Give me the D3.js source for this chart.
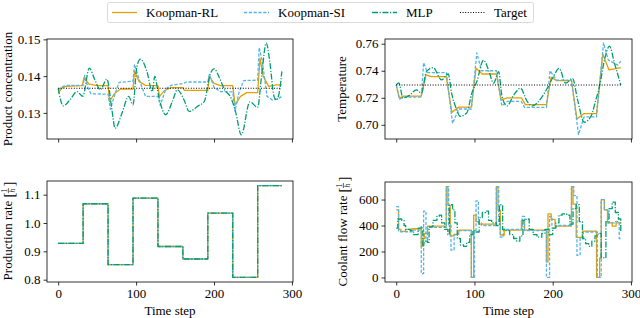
<!DOCTYPE html>
<html><head><meta charset="utf-8">
<script src="https://cdn.jsdelivr.net/npm/d3@7"></script>
<style>body{margin:0;background:#fff}svg{display:block}text{font-family:"Liberation Serif","DejaVu Serif",serif;fill:#000}</style>
</head><body><svg id="c" width="640" height="318"></svg>
<script>
// ---------- data ----------
const seriesNames = ["Koopman-RL","Koopman-SI","MLP","Target"];
const xTicks = [0,100,200,300];

const concRL_t = [0,5,10,31,33,40,50,64,66,72,80,96,98,104,112,128,130,136,145,160,162,192,194,200,208,224,227,234,242,256,259,263,270,280,287];
const concRL   = [0.1354,0.1368,0.1372,0.1374,0.1395,0.1378,0.1374,0.1374,0.1331,0.1352,0.1365,0.1365,0.1413,0.1385,0.1375,0.1374,0.1345,0.1360,0.1369,0.1369,0.1361,0.1361,0.1399,0.1380,0.1374,0.1374,0.1322,0.1345,0.1355,0.1355,0.1449,0.1400,0.1372,0.1376,0.1376];
const concSI_t = [0,6,12,32,34,38,42,64,67,72,78,96,98,104,112,128,131,138,145,160,165,192,194,200,208,224,227,232,238,256,258,262,268,275,282,287];
const concSI   = [0.1363,0.1372,0.1375,0.1375,0.1402,0.1370,0.1352,0.1351,0.1310,0.1345,0.1383,0.1386,0.1432,0.1390,0.1345,0.1345,0.1320,0.1365,0.1375,0.1380,0.1384,0.1384,0.1405,0.1370,0.1358,0.1357,0.1306,0.1355,0.1388,0.1389,0.1478,0.1440,0.1345,0.1335,0.1338,0.1345];
const concMLP_t = [0,6.5,15,24,31.5,40,47,54,62.5,69,73,82,90.5,96,101,105.6,114,120.7,124,129,138,146.5,153,161.6,168,179,187.5,195,200,207,213,222,228,235,246,256,261,267,271.5,277,280,284.5,287];
const concMLP   = [0.1367,0.1319,0.1335,0.1358,0.1345,0.1422,0.1390,0.1363,0.1392,0.1308,0.1258,0.1300,0.1345,0.1322,0.1426,0.1446,0.1412,0.1358,0.1399,0.1345,0.1295,0.1331,0.1363,0.1335,0.1304,0.1318,0.1331,0.1405,0.1420,0.1395,0.1365,0.1340,0.1300,0.1240,0.1330,0.1315,0.1400,0.1490,0.1440,0.1345,0.1335,0.1365,0.1413];
const concTarget = 0.1367;
const concTicks = [0.13,0.14,0.15];

const tempRL_t = [0,4,10,32,38,45,64,71,80,96,102,110,128,134,142,160,165,192,198,205,224,231,240,256,264,272,287];
const tempRL   = [0.7295,0.7200,0.7212,0.7212,0.7370,0.7357,0.7357,0.7092,0.7131,0.7131,0.7418,0.7376,0.7376,0.7185,0.7200,0.7200,0.7149,0.7149,0.7352,0.7327,0.7327,0.7043,0.7083,0.7083,0.7523,0.7406,0.7423];
const tempSI_t = [0,4,10,32,35,40,64,72,80,96,103,109,128,135,142,160,164,192,196.6,205,224,233,240,256,265,271,283,287];
const tempSI   = [0.7295,0.7190,0.7205,0.7205,0.7460,0.7386,0.7386,0.7010,0.7117,0.7117,0.7533,0.7400,0.7400,0.7140,0.7173,0.7173,0.7129,0.7129,0.7400,0.7330,0.7330,0.6928,0.7058,0.7058,0.7606,0.7480,0.7442,0.7470];
const tempMLP_t = [0,3.4,8.6,17.2,25.8,32.2,38.6,47.2,57.9,66.5,70.8,77.3,81.5,90.1,96.6,103,111.6,118,124.5,130.9,135.2,141.6,150.2,158.8,167.4,173.8,186.7,195.3,200.9,208.2,216.7,225.3,231.8,240.3,248.9,255.4,259.7,266.1,272.5,279,287];
const tempMLP   = [0.7295,0.7310,0.7198,0.7220,0.7259,0.7235,0.7393,0.7423,0.7332,0.7376,0.7234,0.7112,0.7063,0.7087,0.7234,0.7320,0.7479,0.7406,0.7308,0.7393,0.7210,0.7140,0.7220,0.7271,0.7173,0.7140,0.7210,0.7295,0.7357,0.7418,0.7308,0.7344,0.7185,0.7019,0.7063,0.7190,0.7280,0.7479,0.7582,0.7455,0.7295];
const tempTarget = 0.7295;
const tempTicks = [0.70,0.72,0.74,0.76];

const prod_t = [0,32,64,96,128,160,192,224,256,287];
const prodRate = [0.928,1.068,0.853,1.088,0.917,0.873,1.035,0.808,1.132,1.132];
const prodTicks = [0.8,0.9,1.0,1.1];

const flowRL_t = [0,3,6,12,20,32,34,36,40,64,66,69,74,80,96,99,102,106,128,130,133,138,160,164,192,194,198,203,224,226,230,238,256,260,262,266,270,276,281,287];
const flowRL   = [520,370,355,370,375,240,300,340,395,700,555,320,332,365,0,480,430,410,700,518,327,365,440,365,120,490,447,396,700,564,309,357,0,150,600,520,420,396,420,420];
const flowSI_t = [0,3,20,32,35,38,40,64,67,70,74,79,96,100,102,105,109,128,131,133,137,161,164,192,196,199,204,224,227,231,235,239,257,262,266,271,279,285,287];
const flowSI   = [545,352,365,30,510,290,385,700,400,210,330,360,0,360,590,420,400,700,420,310,370,470,360,0,470,380,400,700,630,170,300,350,0,600,520,420,430,300,300];
const flowMLP_t = [0,2,7,10,12,18,22,28,32,34,36,40,42,47,52,55,58,62,66,68,72,75,78,82,86,90,94,98,102,106,110,114,118,122,128,132,136,140,145,150,154,158,162,166,170,175,180,186,190,195,200,204,208,212,218,222,226,230,234,238,242,246,250,254,258,262,268,272,276,280,284,287];
const flowMLP   = [380,450,440,400,370,360,330,380,390,250,280,270,390,440,470,480,420,370,330,560,520,420,300,250,240,270,330,360,350,460,500,510,440,420,400,560,370,360,330,300,280,320,440,450,370,330,310,340,370,330,380,420,480,490,480,410,530,560,430,300,260,240,280,320,340,150,430,530,580,500,450,350];
const flowTicks = [0,200,400,600];

// ---------- drawing ----------
const colors = {rl:"#E69F00", si:"#56B4E9", mlp:"#009E73", tgt:"#000"};
const styles = {
  rl:{c:colors.rl,d:null,w:1.3},
  si:{c:colors.si,d:"3.2,1.6",w:1.3},
  mlp:{c:colors.mlp,d:"6,1.6,1.2,1.6",w:1.3},
  tgt:{c:"#000",d:"1,1.6",w:1.1}
};
const FS = 13;
const svg = d3.select("#c");

function panel(o){
  const g = svg.append("g");
  const x = d3.scaleLinear().domain([-14.35,301.35]).range([o.x0,o.x1]);
  const y = d3.scaleLinear().domain(o.yd).range([o.y1,o.y0]);
  const clipId = "clip"+o.id;
  svg.append("clipPath").attr("id",clipId).append("rect")
    .attr("x",o.x0).attr("y",o.y0).attr("width",o.x1-o.x0).attr("height",o.y1-o.y0);
  const plot = g.append("g").attr("clip-path",`url(#${clipId})`);
  o.series.forEach(s=>{
    const st = styles[s.k];
    const pts = s.t.map((t,i)=>[t,s.v[i]]);
    const line = d3.line().x(d=>x(d[0])).y(d=>y(d[1])).curve(s.curve||d3.curveLinear);
    const p = plot.append("path").attr("d",line(pts)).attr("fill","none")
      .attr("stroke",st.c).attr("stroke-width",st.w).attr("stroke-linejoin","round");
    if(st.d) p.attr("stroke-dasharray",st.d);
  });
  const xa = d3.axisBottom(x).tickValues(xTicks).tickSize(3.5).tickPadding(3)
     .tickFormat(o.xlabels? d3.format("d") : ()=> "");
  const gx = g.append("g").attr("transform",`translate(0,${o.y1})`).call(xa);
  const ya = d3.axisLeft(y).tickValues(o.yt).tickSize(3.5).tickPadding(3).tickFormat(o.fmt);
  const gy = g.append("g").attr("transform",`translate(${o.x0},0)`).call(ya);
  [gx,gy].forEach(a=>{
    a.select(".domain").remove();
    a.selectAll(".tick line").attr("stroke","#000").attr("stroke-width",0.8);
    a.selectAll(".tick text").attr("font-size",FS).attr("font-family","Liberation Serif, serif").attr("fill","#000");
  });
  g.append("rect").attr("x",o.x0).attr("y",o.y0).attr("width",o.x1-o.x0).attr("height",o.y1-o.y0)
    .attr("fill","none").attr("stroke","#000").attr("stroke-width",0.8);
  const lg = g.append("g");
  const t = lg.append("text").attr("font-size",FS).text(o.ylab);
  let w = t.node().getComputedTextLength();
  if(o.frac){
    const bx = w+3;
    lg.append("text").attr("x",bx).attr("y",1.5).attr("font-size",15).text("[");
    lg.append("text").attr("x",bx+7).attr("y",-5).attr("font-size",7.5).attr("text-anchor","middle").text("1");
    lg.append("line").attr("x1",bx+4.5).attr("x2",bx+9.5).attr("y1",-3.6).attr("y2",-3.6).attr("stroke","#000").attr("stroke-width",0.6);
    lg.append("text").attr("x",bx+7).attr("y",3.3).attr("font-size",7.5).attr("font-style","italic").attr("text-anchor","middle").text("h");
    lg.append("text").attr("x",bx+11).attr("y",1.5).attr("font-size",15).text("]");
    w = bx+15;
  }
  lg.attr("transform",`translate(${o.lx},${(o.y0+o.y1)/2}) rotate(-90) translate(${-w/2},0)`);
  if(o.xlabels){
    g.append("text").attr("x",(o.x0+o.x1)/2).attr("y",315).attr("text-anchor","middle").attr("font-size",FS).text("Time step");
  }
  if(o.target!==undefined){
    const st = styles.tgt;
    plot.append("line").attr("x1",x(0)).attr("x2",x(287)).attr("y1",y(o.target)).attr("y2",y(o.target))
      .attr("stroke",st.c).attr("stroke-width",st.w).attr("stroke-dasharray",st.d);
  }
}

panel({id:1,x0:47,x1:293,y0:39,y1:139,yd:[0.1229,0.1501],yt:concTicks,fmt:d3.format(".2f"),lx:12,ylab:"Product concentration",
  series:[{k:"rl",t:concRL_t,v:concRL},{k:"si",t:concSI_t,v:concSI},{k:"mlp",t:concMLP_t,v:concMLP,curve:d3.curveMonotoneX}],target:concTarget});
panel({id:2,x0:385,x1:632,y0:39,y1:139,yd:[0.6895,0.7635],yt:tempTicks,fmt:d3.format(".2f"),lx:346,ylab:"Temperature",
  series:[{k:"rl",t:tempRL_t,v:tempRL},{k:"si",t:tempSI_t,v:tempSI},{k:"mlp",t:tempMLP_t,v:tempMLP,curve:d3.curveMonotoneX}],target:tempTarget});
panel({id:3,x0:47,x1:293,y0:181,y1:282,yd:[0.7918,1.1482],yt:prodTicks,fmt:d3.format(".1f"),lx:12,ylab:"Production rate",frac:true,xlabels:true,
  series:[{k:"rl",t:prod_t,v:prodRate,curve:d3.curveStepAfter},{k:"si",t:prod_t,v:prodRate,curve:d3.curveStepAfter},{k:"mlp",t:prod_t,v:prodRate,curve:d3.curveStepAfter}]});
panel({id:4,x0:385,x1:632,y0:182,y1:282,yd:[-35,735],yt:flowTicks,fmt:d3.format("d"),lx:347,ylab:"Coolant flow rate",frac:true,xlabels:true,
  series:[{k:"rl",t:flowRL_t,v:flowRL,curve:d3.curveStepAfter},{k:"si",t:flowSI_t,v:flowSI,curve:d3.curveStepAfter},{k:"mlp",t:flowMLP_t,v:flowMLP,curve:d3.curveStepAfter}]});

// legend
const lg = svg.append("g");
lg.append("rect").attr("x",107.5).attr("y",2.5).attr("width",426).attr("height",20).attr("rx",2)
  .attr("fill","#fff").attr("stroke","#d0d0d0").attr("stroke-width",0.8);
const legX = [112,244,372,460];
const keys = ["rl","si","mlp","tgt"];
keys.forEach((k,i)=>{
  const st = styles[k];
  const l = lg.append("line").attr("x1",legX[i]).attr("x2",legX[i]+25).attr("y1",12.5).attr("y2",12.5)
    .attr("stroke",st.c).attr("stroke-width",st.w);
  if(st.d) l.attr("stroke-dasharray",st.d);
  lg.append("text").attr("x",legX[i]+34).attr("y",17).attr("font-size",FS).text(seriesNames[i]);
});
</script></body></html>
